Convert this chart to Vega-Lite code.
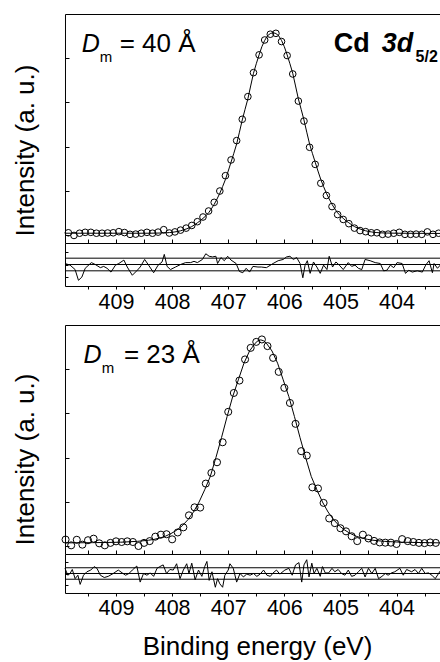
{
  "$schema": "https://vega.github.io/schema/vega-lite/v6.json",
  "padding": {"left": 12, "top": 14, "right": 0, "bottom": 0},
  "config": {
    "font": "Liberation Sans",
    "view": {"stroke": null},
    "axis": {"grid": false, "domainColor": "black", "tickColor": "black", "labelColor": "black", "titleColor": "black", "labelFont": "Liberation Sans", "titleFont": "Liberation Sans", "titleFontWeight": "normal", "domainWidth": 1, "tickWidth": 1}
  },
  "datasets": {
    "refs": [{"r": -1}, {"r": 0}, {"r": 1}],
    "pts1": [
      {"E":409.85,"I":1.2},{"E":409.75,"I":0.0},{"E":409.65,"I":1.0},{"E":409.55,"I":1.4},{"E":409.45,"I":1.4},{"E":409.35,"I":1.0},{"E":409.25,"I":1.0},{"E":409.15,"I":1.1},{"E":409.05,"I":1.2},{"E":408.95,"I":1.7},{"E":408.85,"I":1.3},{"E":408.75,"I":0.5},{"E":408.65,"I":0.6},{"E":408.55,"I":1.0},{"E":408.45,"I":1.4},{"E":408.35,"I":1.0},{"E":408.25,"I":1.5},{"E":408.15,"I":2.6},{"E":408.05,"I":1.1},{"E":407.95,"I":1.6},{"E":407.85,"I":2.4},{"E":407.75,"I":3.3},{"E":407.65,"I":4.5},{"E":407.55,"I":6.2},{"E":407.45,"I":8.3},{"E":407.35,"I":11.0},{"E":407.25,"I":14.9},{"E":407.15,"I":20.0},{"E":407.05,"I":26.9},{"E":406.95,"I":34.0},{"E":406.85,"I":42.7},{"E":406.75,"I":52.3},{"E":406.65,"I":62.5},{"E":406.55,"I":73.3},{"E":406.45,"I":81.3},{"E":406.35,"I":88.0},{"E":406.25,"I":90.6},{"E":406.15,"I":91.0},{"E":406.05,"I":87.3},{"E":405.95,"I":81.0},{"E":405.85,"I":72.7},{"E":405.75,"I":60.5},{"E":405.65,"I":51.5},{"E":405.55,"I":39.7},{"E":405.45,"I":32.0},{"E":405.35,"I":23.5},{"E":405.25,"I":18.0},{"E":405.15,"I":13.0},{"E":405.05,"I":9.4},{"E":404.95,"I":7.2},{"E":404.85,"I":5.3},{"E":404.75,"I":3.3},{"E":404.65,"I":2.2},{"E":404.55,"I":1.7},{"E":404.45,"I":1.2},{"E":404.35,"I":1.2},{"E":404.25,"I":0.5},{"E":404.15,"I":0.6},{"E":404.05,"I":1.0},{"E":403.95,"I":1.4},{"E":403.85,"I":0.5},{"E":403.75,"I":0.5},{"E":403.65,"I":0.6},{"E":403.55,"I":0.5},{"E":403.45,"I":1.6},{"E":403.35,"I":0.5},{"E":403.25,"I":1.0}
    ],
    "fit1": [
      {"E":409.9,"I":1.0},{"E":408.4,"I":1.0},{"E":408.2,"I":1.1},{"E":408.1,"I":1.2},{"E":408.05,"I":1.3},{"E":408.0,"I":1.4},{"E":407.95,"I":1.6},{"E":407.9,"I":1.8},{"E":407.85,"I":2.1},{"E":407.8,"I":2.5},{"E":407.75,"I":2.9},{"E":407.7,"I":3.4},{"E":407.65,"I":4.0},{"E":407.6,"I":4.8},{"E":407.55,"I":5.7},{"E":407.5,"I":6.6},{"E":407.45,"I":7.7},{"E":407.4,"I":8.8},{"E":407.35,"I":10.2},{"E":407.3,"I":12.0},{"E":407.25,"I":14.0},{"E":407.2,"I":16.4},{"E":407.15,"I":19.0},{"E":407.1,"I":22.0},{"E":407.05,"I":25.2},{"E":407.0,"I":29.0},{"E":406.95,"I":33.0},{"E":406.9,"I":37.0},{"E":406.85,"I":41.2},{"E":406.8,"I":46.5},{"E":406.75,"I":52.0},{"E":406.7,"I":56.8},{"E":406.65,"I":61.5},{"E":406.6,"I":67.3},{"E":406.55,"I":73.0},{"E":406.5,"I":77.3},{"E":406.45,"I":81.3},{"E":406.4,"I":85.0},{"E":406.35,"I":87.8},{"E":406.3,"I":89.9},{"E":406.25,"I":90.9},{"E":406.2,"I":91.3},{"E":406.15,"I":90.9},{"E":406.1,"I":89.9},{"E":406.05,"I":87.8},{"E":406.0,"I":85.0},{"E":405.95,"I":81.3},{"E":405.9,"I":77.3},{"E":405.85,"I":73.0},{"E":405.8,"I":67.3},{"E":405.75,"I":61.5},{"E":405.7,"I":56.8},{"E":405.65,"I":52.0},{"E":405.6,"I":46.5},{"E":405.55,"I":41.2},{"E":405.5,"I":37.0},{"E":405.45,"I":33.0},{"E":405.4,"I":29.0},{"E":405.35,"I":25.2},{"E":405.3,"I":22.0},{"E":405.25,"I":19.0},{"E":405.2,"I":16.4},{"E":405.15,"I":14.0},{"E":405.1,"I":12.0},{"E":405.05,"I":10.2},{"E":405.0,"I":8.8},{"E":404.95,"I":7.7},{"E":404.9,"I":6.6},{"E":404.85,"I":5.7},{"E":404.8,"I":4.8},{"E":404.75,"I":4.0},{"E":404.7,"I":3.4},{"E":404.65,"I":2.9},{"E":404.6,"I":2.5},{"E":404.55,"I":2.1},{"E":404.5,"I":1.8},{"E":404.45,"I":1.6},{"E":404.4,"I":1.4},{"E":404.35,"I":1.3},{"E":404.3,"I":1.2},{"E":404.2,"I":1.1},{"E":404.0,"I":1.0},{"E":403.2,"I":0.9}
    ],
    "res1": [
      {"E":409.91,"r":0.16},{"E":409.82,"r":-0.1},{"E":409.73,"r":-0.8},{"E":409.67,"r":-2.5},{"E":409.61,"r":-2.0},{"E":409.55,"r":-0.6},{"E":409.44,"r":0.3},{"E":409.37,"r":0.0},{"E":409.28,"r":-0.5},{"E":409.22,"r":-0.3},{"E":409.16,"r":-0.6},{"E":409.09,"r":-1.2},{"E":409.01,"r":-0.1},{"E":408.95,"r":0.16},{"E":408.86,"r":0.7},{"E":408.8,"r":-0.4},{"E":408.71,"r":-1.7},{"E":408.62,"r":-0.9},{"E":408.57,"r":-0.4},{"E":408.49,"r":0.8},{"E":408.42,"r":-0.1},{"E":408.33,"r":-1.3},{"E":408.25,"r":-0.1},{"E":408.18,"r":0.4},{"E":408.14,"r":1.6},{"E":408.09,"r":-0.3},{"E":408.03,"r":-0.8},{"E":407.94,"r":-0.4},{"E":407.85,"r":0.0},{"E":407.76,"r":0.3},{"E":407.67,"r":0.3},{"E":407.61,"r":0.5},{"E":407.55,"r":0.3},{"E":407.46,"r":0.8},{"E":407.4,"r":1.7},{"E":407.34,"r":1.3},{"E":407.28,"r":1.2},{"E":407.22,"r":1.3},{"E":407.19,"r":0.16},{"E":407.13,"r":1.1},{"E":407.07,"r":0.6},{"E":407.01,"r":1.3},{"E":406.95,"r":0.7},{"E":406.86,"r":0.16},{"E":406.8,"r":-1.1},{"E":406.74,"r":-1.3},{"E":406.68,"r":-0.6},{"E":406.62,"r":-1.2},{"E":406.56,"r":-0.3},{"E":406.47,"r":-0.4},{"E":406.41,"r":-0.4},{"E":406.32,"r":-0.5},{"E":406.2,"r":0.16},{"E":406.11,"r":0.6},{"E":406.02,"r":0.8},{"E":405.96,"r":1.2},{"E":405.9,"r":1.3},{"E":405.84,"r":0.8},{"E":405.78,"r":1.1},{"E":405.72,"r":0.16},{"E":405.67,"r":-2.1},{"E":405.63,"r":-0.1},{"E":405.59,"r":0.6},{"E":405.54,"r":-1.4},{"E":405.48,"r":0.4},{"E":405.42,"r":-0.4},{"E":405.36,"r":-1.4},{"E":405.3,"r":-0.1},{"E":405.24,"r":-0.8},{"E":405.2,"r":1.3},{"E":405.14,"r":-0.4},{"E":405.08,"r":0.4},{"E":405.02,"r":-0.1},{"E":404.95,"r":-0.8},{"E":404.86,"r":0.3},{"E":404.8,"r":-0.3},{"E":404.74,"r":-0.1},{"E":404.68,"r":-0.6},{"E":404.62,"r":-0.8},{"E":404.56,"r":0.8},{"E":404.47,"r":0.6},{"E":404.38,"r":0.3},{"E":404.29,"r":0.16},{"E":404.23,"r":-1.0},{"E":404.17,"r":-0.9},{"E":404.11,"r":-0.1},{"E":404.05,"r":-0.5},{"E":403.99,"r":0.3},{"E":403.9,"r":0.16},{"E":403.84,"r":-1.4},{"E":403.78,"r":-0.9},{"E":403.72,"r":-1.2},{"E":403.63,"r":-1.0},{"E":403.54,"r":-1.2},{"E":403.48,"r":-0.1},{"E":403.42,"r":0.6},{"E":403.36,"r":-1.3},{"E":403.33,"r":0.16},{"E":403.27,"r":-0.6},{"E":403.21,"r":0.0}
    ],
    "pts2": [
      {"E":409.9,"I":3.1},{"E":409.8,"I":0.5},{"E":409.7,"I":3.0},{"E":409.6,"I":0.8},{"E":409.5,"I":2.8},{"E":409.4,"I":3.5},{"E":409.3,"I":1.4},{"E":409.2,"I":0.5},{"E":409.1,"I":1.6},{"E":409.0,"I":2.3},{"E":408.9,"I":2.0},{"E":408.8,"I":2.3},{"E":408.7,"I":2.0},{"E":408.6,"I":0.2},{"E":408.5,"I":1.6},{"E":408.4,"I":2.4},{"E":408.3,"I":4.4},{"E":408.2,"I":5.3},{"E":408.1,"I":5.5},{"E":408.0,"I":3.2},{"E":407.9,"I":6.3},{"E":407.8,"I":8.6},{"E":407.7,"I":14.0},{"E":407.6,"I":17.6},{"E":407.5,"I":17.5},{"E":407.4,"I":28.3},{"E":407.3,"I":33.1},{"E":407.2,"I":37.9},{"E":407.1,"I":46.9},{"E":407.0,"I":60.6},{"E":406.9,"I":69.1},{"E":406.8,"I":74.7},{"E":406.7,"I":84.2},{"E":406.6,"I":89.4},{"E":406.5,"I":92.1},{"E":406.4,"I":93.2},{"E":406.3,"I":90.2},{"E":406.2,"I":84.9},{"E":406.1,"I":78.6},{"E":406.0,"I":71.4},{"E":405.9,"I":64.6},{"E":405.8,"I":55.2},{"E":405.7,"I":42.9},{"E":405.6,"I":40.9},{"E":405.5,"I":26.6},{"E":405.4,"I":26.1},{"E":405.3,"I":19.6},{"E":405.2,"I":12.6},{"E":405.1,"I":10.5},{"E":405.0,"I":8.2},{"E":404.9,"I":6.8},{"E":404.8,"I":4.6},{"E":404.7,"I":2.4},{"E":404.6,"I":5.3},{"E":404.5,"I":3.6},{"E":404.4,"I":2.5},{"E":404.3,"I":1.8},{"E":404.2,"I":1.7},{"E":404.1,"I":1.7},{"E":404.0,"I":1.1},{"E":403.9,"I":3.3},{"E":403.8,"I":2.4},{"E":403.7,"I":2.0},{"E":403.6,"I":1.6},{"E":403.5,"I":1.5},{"E":403.4,"I":1.8},{"E":403.3,"I":1.6}
    ],
    "fit2": [
      {"E":409.9,"I":1.6},{"E":409.42,"I":1.7},{"E":408.92,"I":1.9},{"E":408.62,"I":2.3},{"E":408.42,"I":2.8},{"E":408.32,"I":3.2},{"E":408.22,"I":3.8},{"E":408.12,"I":4.6},{"E":408.02,"I":5.8},{"E":407.92,"I":7.3},{"E":407.82,"I":9.3},{"E":407.72,"I":12.0},{"E":407.62,"I":15.5},{"E":407.52,"I":20.0},{"E":407.42,"I":25.5},{"E":407.32,"I":31.5},{"E":407.22,"I":40.0},{"E":407.12,"I":49.0},{"E":407.02,"I":58.5},{"E":406.92,"I":67.5},{"E":406.82,"I":75.0},{"E":406.72,"I":82.5},{"E":406.62,"I":88.0},{"E":406.52,"I":91.5},{"E":406.47,"I":92.6},{"E":406.42,"I":93.0},{"E":406.37,"I":92.6},{"E":406.32,"I":91.5},{"E":406.22,"I":88.0},{"E":406.12,"I":82.5},{"E":406.02,"I":75.0},{"E":405.92,"I":67.5},{"E":405.82,"I":58.5},{"E":405.72,"I":49.0},{"E":405.62,"I":40.0},{"E":405.52,"I":31.5},{"E":405.42,"I":25.5},{"E":405.32,"I":20.0},{"E":405.22,"I":15.5},{"E":405.12,"I":12.0},{"E":405.02,"I":9.3},{"E":404.92,"I":7.3},{"E":404.82,"I":5.8},{"E":404.72,"I":4.6},{"E":404.62,"I":3.8},{"E":404.52,"I":3.2},{"E":404.42,"I":2.8},{"E":404.22,"I":2.3},{"E":403.92,"I":1.9},{"E":403.42,"I":1.7},{"E":403.2,"I":1.6}
    ],
    "res2": [
      {"E":409.91,"r":0.9},{"E":409.86,"r":-0.3},{"E":409.82,"r":0.0},{"E":409.78,"r":0.7},{"E":409.73,"r":-0.9},{"E":409.68,"r":-0.3},{"E":409.64,"r":-1.9},{"E":409.58,"r":-0.3},{"E":409.52,"r":0.3},{"E":409.45,"r":0.6},{"E":409.39,"r":1.2},{"E":409.34,"r":0.9},{"E":409.28,"r":-0.3},{"E":409.21,"r":-0.7},{"E":409.14,"r":-0.5},{"E":409.05,"r":0.0},{"E":408.96,"r":0.6},{"E":408.89,"r":0.1},{"E":408.83,"r":-0.3},{"E":408.77,"r":0.0},{"E":408.71,"r":0.6},{"E":408.63,"r":1.3},{"E":408.57,"r":-1.5},{"E":408.51,"r":0.0},{"E":408.45,"r":-0.3},{"E":408.39,"r":0.1},{"E":408.33,"r":-0.5},{"E":408.27,"r":0.9},{"E":408.22,"r":1.2},{"E":408.16,"r":1.5},{"E":408.1,"r":0.0},{"E":408.04,"r":0.7},{"E":407.98,"r":0.6},{"E":407.92,"r":1.7},{"E":407.86,"r":-0.9},{"E":407.8,"r":0.6},{"E":407.74,"r":1.7},{"E":407.7,"r":0.0},{"E":407.65,"r":1.8},{"E":407.59,"r":-1.1},{"E":407.53,"r":0.6},{"E":407.47,"r":-0.5},{"E":407.42,"r":1.2},{"E":407.38,"r":2.1},{"E":407.34,"r":-1.2},{"E":407.29,"r":0.3},{"E":407.23,"r":-2.4},{"E":407.19,"r":-0.9},{"E":407.15,"r":-1.8},{"E":407.1,"r":-2.4},{"E":407.06,"r":-0.3},{"E":407.0,"r":0.6},{"E":406.97,"r":1.7},{"E":406.91,"r":0.9},{"E":406.85,"r":-1.5},{"E":406.79,"r":0.0},{"E":406.73,"r":-0.6},{"E":406.67,"r":-0.1},{"E":406.61,"r":-0.3},{"E":406.55,"r":0.0},{"E":406.49,"r":-0.5},{"E":406.43,"r":-0.1},{"E":406.37,"r":0.6},{"E":406.31,"r":-0.3},{"E":406.25,"r":-0.5},{"E":406.2,"r":0.1},{"E":406.14,"r":0.6},{"E":406.08,"r":-0.1},{"E":405.99,"r":0.6},{"E":405.92,"r":0.9},{"E":405.86,"r":-0.3},{"E":405.8,"r":1.5},{"E":405.74,"r":1.9},{"E":405.69,"r":-1.5},{"E":405.65,"r":1.5},{"E":405.6,"r":2.4},{"E":405.56,"r":-0.6},{"E":405.51,"r":1.8},{"E":405.47,"r":0.0},{"E":405.42,"r":0.9},{"E":405.36,"r":-0.5},{"E":405.32,"r":1.2},{"E":405.27,"r":0.1},{"E":405.21,"r":0.1},{"E":405.15,"r":0.9},{"E":405.1,"r":0.3},{"E":405.04,"r":0.7},{"E":404.98,"r":0.0},{"E":404.92,"r":-0.3},{"E":404.86,"r":0.6},{"E":404.8,"r":-0.5},{"E":404.74,"r":-0.3},{"E":404.68,"r":0.3},{"E":404.62,"r":0.9},{"E":404.56,"r":-0.6},{"E":404.5,"r":0.9},{"E":404.44,"r":0.0},{"E":404.38,"r":0.9},{"E":404.32,"r":-0.9},{"E":404.26,"r":-0.5},{"E":404.2,"r":0.0},{"E":404.15,"r":-0.3},{"E":404.09,"r":0.1},{"E":404.03,"r":0.3},{"E":403.94,"r":0.9},{"E":403.88,"r":-0.3},{"E":403.82,"r":0.7},{"E":403.73,"r":0.3},{"E":403.67,"r":0.7},{"E":403.61,"r":0.0},{"E":403.55,"r":0.9},{"E":403.49,"r":0.0},{"E":403.43,"r":0.1},{"E":403.37,"r":-0.3},{"E":403.31,"r":-0.9},{"E":403.25,"r":0.0},{"E":403.21,"r":0.6}
    ]
  },
  "vconcat": [
    {
      "vconcat": [
        {
          "width": 376.4, "height": 229,
          "layer": [
            {
              "data": {"name": "fit1"},
              "mark": {"type": "line", "color": "black", "strokeWidth": 1},
              "encoding": {
                "x": {"field": "E", "type": "quantitative", "scale": {"domain": [403.2, 409.91], "reverse": true, "nice": false, "zero": false},
                      "axis": {"orient": "bottom", "values": [403.5,404,404.5,405,405.5,406,406.5,407,407.5,408,408.5,409,409.5], "labels": false, "tickSize": -4, "title": null}},
                "y": {"field": "I", "type": "quantitative", "scale": {"domain": [-3.4, 99.7], "nice": false, "zero": false},
                      "axis": {"orient": "left", "values": [0,20,40,60,80], "labels": false, "tickSize": -4, "title": "Intensity (a. u.)", "titleFontSize": 26, "titlePadding": 26, "titleY": 136}}
              }
            },
            {
              "data": {"name": "pts1"},
              "mark": {"type": "point", "shape": "circle", "filled": false, "stroke": "black", "strokeWidth": 1, "size": 44, "opacity": 1},
              "encoding": {
                "x": {"field": "E", "type": "quantitative", "axis": {"orient": "top", "labels": false, "ticks": false, "domain": true, "title": null}},
                "y": {"field": "I", "type": "quantitative", "axis": null}
              }
            },
            {
              "data": {"values": [{"t": "D"}]},
              "mark": {"type": "text", "fontSize": 25, "fontStyle": "italic", "align": "left", "baseline": "alphabetic", "color": "black"},
              "encoding": {"x": {"datum": 409.61, "type": "quantitative", "axis": null}, "y": {"datum": 82.75, "type": "quantitative", "axis": null}, "text": {"field": "t"}}
            },
            {
              "data": {"values": [{"t": "m"}]},
              "mark": {"type": "text", "fontSize": 15, "align": "left", "baseline": "alphabetic", "color": "black"},
              "encoding": {"x": {"datum": 409.29, "type": "quantitative", "axis": null}, "y": {"datum": 78.25, "type": "quantitative", "axis": null}, "text": {"field": "t"}}
            },
            {
              "data": {"values": [{"t": "= 40 Å"}]},
              "mark": {"type": "text", "fontSize": 26, "align": "left", "baseline": "alphabetic", "color": "black"},
              "encoding": {"x": {"datum": 408.935, "type": "quantitative", "axis": null}, "y": {"datum": 82.75, "type": "quantitative", "axis": null}, "text": {"field": "t"}}
            },
            {
              "data": {"values": [{"t": "Cd"}]},
              "mark": {"type": "text", "fontSize": 27, "fontWeight": "bold", "align": "left", "baseline": "alphabetic", "color": "black"},
              "encoding": {"x": {"datum": 405.12, "type": "quantitative", "axis": null}, "y": {"datum": 82.75, "type": "quantitative", "axis": null}, "text": {"field": "t"}}
            },
            {
              "data": {"values": [{"t": "3d"}]},
              "mark": {"type": "text", "fontSize": 27, "fontWeight": "bold", "fontStyle": "italic", "align": "left", "baseline": "alphabetic", "color": "black"},
              "encoding": {"x": {"datum": 404.265, "type": "quantitative", "axis": null}, "y": {"datum": 82.75, "type": "quantitative", "axis": null}, "text": {"field": "t"}}
            },
            {
              "data": {"values": [{"t": "5/2"}]},
              "mark": {"type": "text", "fontSize": 16, "fontWeight": "bold", "align": "left", "baseline": "alphabetic", "color": "black"},
              "encoding": {"x": {"datum": 403.66, "type": "quantitative", "axis": null}, "y": {"datum": 78.25, "type": "quantitative", "axis": null}, "text": {"field": "t"}}
            }
          ],
          "resolve": {"axis": {"x": "independent", "y": "independent"}}
        },
        {
          "width": 376.4, "height": 43,
          "layer": [
            {
              "data": {"name": "refs"},
              "mark": {"type": "rule", "color": "black", "strokeWidth": 1},
              "encoding": {
                "y": {"field": "r", "type": "quantitative", "scale": {"domain": [-3.4, 3.4], "nice": false, "zero": false},
                      "axis": {"orient": "left", "values": [-2, 0, 2], "labels": false, "tickSize": -3, "title": null}}
              }
            },
            {
              "data": {"name": "res1"},
              "mark": {"type": "line", "color": "black", "strokeWidth": 1},
              "encoding": {
                "x": {"field": "E", "type": "quantitative", "scale": {"domain": [403.2, 409.91], "reverse": true, "nice": false, "zero": false},
                      "axis": {"orient": "bottom", "values": [403.5,404,404.5,405,405.5,406,406.5,407,407.5,408,408.5,409,409.5], "labelExpr": "datum.value % 1 === 0 ? format(datum.value, 'd') : ''", "tickSize": 3, "labelFontSize": 21.5, "labelPadding": 2, "labelOverlap": false, "labelFlush": false, "title": null}},
                "y": {"field": "r", "type": "quantitative", "axis": null}
              }
            }
          ],
          "resolve": {"axis": {"y": "independent"}}
        }
      ],
      "spacing": 0,
      "bounds": "flush"
    },
    {
      "vconcat": [
        {
          "width": 376.4, "height": 229,
          "layer": [
            {
              "data": {"name": "fit2"},
              "mark": {"type": "line", "color": "black", "strokeWidth": 1},
              "encoding": {
                "x": {"field": "E", "type": "quantitative", "scale": {"domain": [403.2, 409.91], "reverse": true, "nice": false, "zero": false},
                      "axis": {"orient": "bottom", "values": [403.5,404,404.5,405,405.5,406,406.5,407,407.5,408,408.5,409,409.5], "labels": false, "tickSize": -4, "title": null}},
                "y": {"field": "I", "type": "quantitative", "scale": {"domain": [-3.4, 99.7], "nice": false, "zero": false},
                      "axis": {"orient": "left", "values": [0,20,40,60,80], "labels": false, "tickSize": -4, "title": "Intensity (a. u.)", "titleFontSize": 26, "titlePadding": 26, "titleY": 134}}
              }
            },
            {
              "data": {"name": "pts2"},
              "mark": {"type": "point", "shape": "circle", "filled": false, "stroke": "black", "strokeWidth": 1, "size": 50, "opacity": 1},
              "encoding": {
                "x": {"field": "E", "type": "quantitative", "axis": {"orient": "top", "labels": false, "ticks": false, "domain": true, "title": null}},
                "y": {"field": "I", "type": "quantitative", "axis": null}
              }
            },
            {
              "data": {"values": [{"t": "D"}]},
              "mark": {"type": "text", "fontSize": 25, "fontStyle": "italic", "align": "left", "baseline": "alphabetic", "color": "black"},
              "encoding": {"x": {"datum": 409.58, "type": "quantitative", "axis": null}, "y": {"datum": 82.75, "type": "quantitative", "axis": null}, "text": {"field": "t"}}
            },
            {
              "data": {"values": [{"t": "m"}]},
              "mark": {"type": "text", "fontSize": 15, "align": "left", "baseline": "alphabetic", "color": "black"},
              "encoding": {"x": {"datum": 409.255, "type": "quantitative", "axis": null}, "y": {"datum": 78.25, "type": "quantitative", "axis": null}, "text": {"field": "t"}}
            },
            {
              "data": {"values": [{"t": "= 23 Å"}]},
              "mark": {"type": "text", "fontSize": 26, "align": "left", "baseline": "alphabetic", "color": "black"},
              "encoding": {"x": {"datum": 408.86, "type": "quantitative", "axis": null}, "y": {"datum": 82.75, "type": "quantitative", "axis": null}, "text": {"field": "t"}}
            }
          ],
          "resolve": {"axis": {"x": "independent", "y": "independent"}}
        },
        {
          "width": 376.4, "height": 39,
          "layer": [
            {
              "data": {"name": "refs"},
              "mark": {"type": "rule", "color": "black", "strokeWidth": 1},
              "encoding": {
                "y": {"field": "r", "type": "quantitative", "scale": {"domain": [-3.4, 3.4], "nice": false, "zero": false},
                      "axis": {"orient": "left", "values": [-2, 0, 2], "labels": false, "tickSize": -3, "title": null}}
              }
            },
            {
              "data": {"name": "res2"},
              "mark": {"type": "line", "color": "black", "strokeWidth": 1},
              "encoding": {
                "x": {"field": "E", "type": "quantitative", "scale": {"domain": [403.2, 409.91], "reverse": true, "nice": false, "zero": false},
                      "axis": {"orient": "bottom", "values": [403.5,404,404.5,405,405.5,406,406.5,407,407.5,408,408.5,409,409.5], "labelExpr": "datum.value % 1 === 0 ? format(datum.value, 'd') : ''", "tickSize": 3, "labelFontSize": 21.5, "labelPadding": 2, "labelOverlap": false, "labelFlush": false, "title": "Binding energy (eV)", "titleFontSize": 26, "titlePadding": 14, "titleX": 192}},
                "y": {"field": "r", "type": "quantitative", "axis": null}
              }
            }
          ],
          "resolve": {"axis": {"y": "independent"}}
        }
      ],
      "spacing": 0,
      "bounds": "flush"
    }
  ],
  "spacing": 12,
  "bounds": "full"
}
